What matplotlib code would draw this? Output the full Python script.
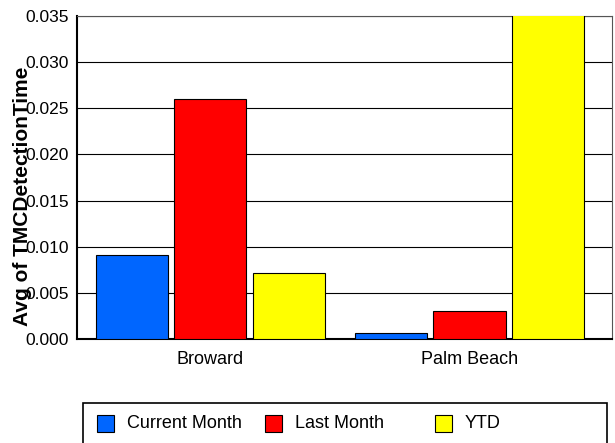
import matplotlib
matplotlib.use("Agg")
import matplotlib.pyplot as plt
from matplotlib.patches import Rectangle
import numpy as np

categories = ["Broward", "Palm Beach"]
series_names = ["Current Month", "Last Month", "YTD"]
current_month = [0.0091, 0.00065]
last_month = [0.0260, 0.0030]
ytd = [0.0071, 0.0360]
yticks = [0.000, 0.005, 0.010, 0.015, 0.020, 0.025, 0.030, 0.035]
colors = ["#0066FF", "#FF0000", "#FFFF00"]

plt.rcParams['font.family'] = ['Liberation Sans', 'DejaVu Sans']

fig = plt.figure(figsize=(6.15, 4.43), dpi=100)
W, H = 615, 443
ax = fig.add_axes([77 / W, 1 - 339 / H, (612 - 77) / W, (339 - 16) / H])

x = np.arange(len(categories))
bw = 0.278
step = 0.303
for i, (vals, name) in enumerate(zip([current_month, last_month, ytd], series_names)):
    ax.bar(x + (i - 1) * step, vals, width=bw, color=colors[i],
           edgecolor="black", linewidth=0.8, label=name, zorder=3)

ax.set_xlim(-0.515, 1.55)
ax.set_ylim(0, 0.035)
ax.set_yticks(yticks)
ax.set_yticklabels([f"{v:.3f}" for v in yticks], fontsize=12.5)
ax.set_xticks(x)
ax.set_xticklabels(categories, fontsize=13)
ax.tick_params(axis='x', length=0, pad=9)
ax.tick_params(axis='y', length=0, pad=6)
ax.yaxis.grid(True, color="black", linewidth=0.8, zorder=0)
ax.set_axisbelow(True)
for s in ["left", "bottom"]:
    ax.spines[s].set_linewidth(1.5)
    ax.spines[s].set_color("black")
for s in ["top", "right"]:
    ax.spines[s].set_linewidth(0.8)
    ax.spines[s].set_color("#555555")

fig.text(23 / W, 1 - 196 / H, "Avg of TMCDetectionTime", rotation=90,
         ha="center", va="center", fontsize=15, fontweight="bold")

# legend frame (extends past the bottom edge, as in the reference) and entries
fig.patches.append(Rectangle((83 / W, -10 / H), (607 - 83) / W, 50 / H,
                             transform=fig.transFigure, fill=False,
                             edgecolor="black", linewidth=1.2))
sq_x = [97, 265, 435]
for i, name in enumerate(series_names):
    fig.patches.append(Rectangle((sq_x[i] / W, 1 - 432 / H), 17 / W, 17 / H,
                                 transform=fig.transFigure, facecolor=colors[i],
                                 edgecolor="black", linewidth=0.8))
    fig.text((sq_x[i] + 30) / W, 1 - 423.5 / H, name, ha="left", va="center",
             fontsize=13)

fig.savefig("out.png", dpi=100)
